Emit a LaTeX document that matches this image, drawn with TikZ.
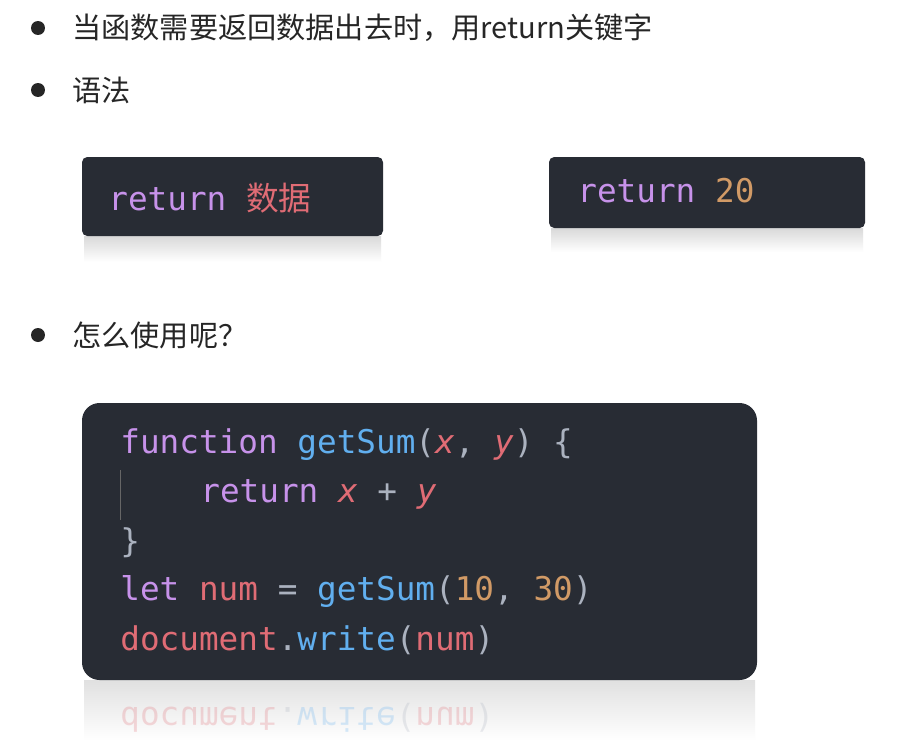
\documentclass[tikz,border=0pt]{standalone}
\usepackage{fontspec}
\setmainfont{Noto Sans CJK SC}
\newfontfamily\cjk{Noto Sans CJK SC}
\setmonofont{DejaVu Sans Mono}
\begin{document}
\begin{tikzpicture}[x=0.02cm,y=-0.02cm,
  bul/.style={circle,fill=black!85,inner sep=0pt,minimum size=0.28cm},
  txt/.style={anchor=west,inner sep=0pt,font=\fontsize{16.6}{19}\selectfont\cjk,text=black!85},
  code/.style={anchor=west,inner sep=0pt,font=\fontsize{18.6}{22}\selectfont\ttfamily,text=cgray}]
\definecolor{codebg}{HTML}{282C34}
\definecolor{kw}{HTML}{C792EA}
\definecolor{fn}{HTML}{61AFEF}
\definecolor{vr}{HTML}{E06C75}
\definecolor{nm}{HTML}{D19A66}
\definecolor{cgray}{HTML}{ABB2BF}
\useasboundingbox (0,0) rectangle (911,740);
\fill[white] (0,0) rectangle (911,740);
% bullets
\node[bul] (b1) at (38,28) {};
\node[txt] (t1) at (72,28) {当函数需要返回数据出去时，用return关键字};
\node[bul] (b2) at (38,90) {};
\node[txt] (t2) at (72,90) {语法};
\node[bul] (b3) at (38,335) {};
\node[txt] (t3) at (72,335) {怎么使用呢？};
% box 1
\shade[top color=black!15,bottom color=white] (84,236) rectangle (381,262);
\fill[codebg,rounded corners=3pt] (82,157) rectangle (383,236);
\node[code] (r1) at (108,198) {\textcolor{kw}{return} \textcolor{vr}{\cjk 数据}};
% box 2
\shade[top color=black!15,bottom color=white] (551,228) rectangle (863,252);
\fill[codebg,rounded corners=3pt] (549,157) rectangle (865,228);
\node[code] (r2) at (577,191) {\textcolor{kw}{return} \textcolor{nm}{20}};
% code block
\shade[top color=black!12,bottom color=white] (84,680) rectangle (755,740);
\fill[codebg,rounded corners=10pt] (82,403) rectangle (757,680);
\draw[black!60,line width=0.4pt] (120,470) -- (120,520);
\node[code] (c1) at (120,445) {\textcolor{kw}{function} \textcolor{fn}{getSum}(\textcolor{vr}{\textit{x}}, \textcolor{vr}{\textit{y}}) \{};
\node[code] (c2) at (200,494) {\textcolor{kw}{return} \textcolor{vr}{\textit{x}} + \textcolor{vr}{\textit{y}}};
\node[code] (c3) at (120,543) {\}};
\node[code] (c4) at (120,591) {\textcolor{kw}{let} \textcolor{vr}{num} = \textcolor{fn}{getSum}(\textcolor{nm}{10}, \textcolor{nm}{30})};
\node[code] (c5) at (120,640) {\textcolor{vr}{document}.\textcolor{fn}{write}(\textcolor{vr}{num})};
\node[code,yscale=-1,opacity=0.25] (c6) at (120,718) {\textcolor{vr}{document}.\textcolor{fn}{write}(\textcolor{vr}{num})};
\end{tikzpicture}
\end{document}
